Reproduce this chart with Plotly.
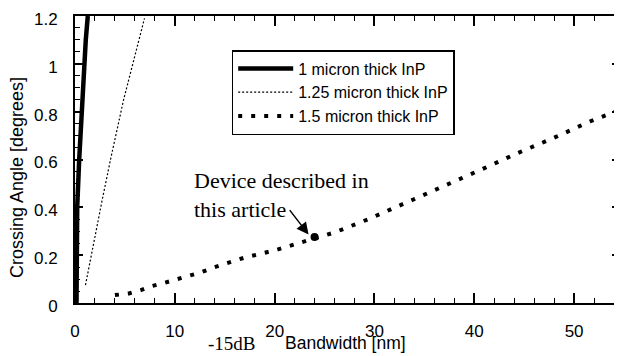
import plotly.graph_objects as go

# Data
x_1um = [0.15, 0.18, 0.22, 0.42, 0.65, 0.88, 1.08, 1.28]
y_1um = [0.0, 0.2, 0.4, 0.6, 0.8, 1.0, 1.1, 1.2]

x_125um = [1.05, 1.3, 1.62, 2.22, 2.72, 3.56, 4.87, 5.73, 6.96]
y_125um = [0.075, 0.13, 0.2, 0.32, 0.43, 0.6, 0.85, 0.99, 1.19]

x_15um = [4.0, 5.4, 6.6, 7.7, 9.0, 10.2, 11.4, 12.6, 14.0, 17.0, 20.0, 22.0, 24.0, 26.0,
          29.6, 33.3, 37.0, 40.6, 44.3, 48.0, 51.7, 54.4]
y_15um = [0.033, 0.04, 0.054, 0.071, 0.085, 0.099, 0.114, 0.128, 0.15, 0.19, 0.22, 0.245,
          0.27, 0.295, 0.354, 0.421, 0.489, 0.556, 0.626, 0.691, 0.761, 0.805]

device_x = [24.0]
device_y = [0.276]

names = ["1 micron thick InP", "1.25 micron thick InP", "1.5 micron thick InP"]
x_ticks = [0, 10, 20, 30, 40, 50]
y_ticks = [0, 0.2, 0.4, 0.6, 0.8, 1.0, 1.2]
y_tick_text = ["0", "0.2", "0.4", "0.6", "0.8", "1", "1.2"]

SANS = "Liberation Sans, Arial, sans-serif"
SERIF = "Liberation Serif, Times New Roman, serif"

fig = go.Figure()
fig.add_trace(go.Scatter(x=x_1um, y=y_1um, mode="lines", name=names[0],
                         line=dict(color="black", width=4.5)))
fig.add_trace(go.Scatter(x=x_125um, y=y_125um, mode="lines", name=names[1],
                         line=dict(color="black", width=1.2, dash="2px,2px")))
fig.add_trace(go.Scatter(x=x_15um, y=y_15um, mode="lines", name=names[2],
                         line=dict(color="black", width=4, dash="4px,9px")))
fig.add_trace(go.Scatter(x=device_x, y=device_y, mode="markers", showlegend=False,
                         marker=dict(color="black", size=8, symbol="circle")))

fig.add_annotation(x=device_x[0] - 0.6, y=device_y[0] + 0.01, xref="x", yref="y",
                   text="", showarrow=True, ax=-20, ay=-26, arrowhead=2,
                   arrowsize=1.6, arrowwidth=1.5, arrowcolor="black")
fig.add_annotation(x=11.7, y=0.572, xref="x", yref="y", xanchor="left", yanchor="top",
                   text="Device described in<br>this article", showarrow=False, align="left",
                   font=dict(family=SERIF, size=22, color="black"))
fig.add_annotation(x=-0.106, y=0.436, xref="paper", yref="paper", textangle=-90,
                   xanchor="center", yanchor="middle",
                   text="Crossing Angle [degrees]", showarrow=False,
                   font=dict(family=SANS, size=18, color="black"))
fig.add_annotation(x=0.497, y=-0.138, xref="paper", yref="paper",
                   xanchor="center", yanchor="middle",
                   text="Bandwidth [nm]", showarrow=False,
                   font=dict(family=SANS, size=17.5, color="black"))
fig.add_annotation(x=0.288, y=-0.14, xref="paper", yref="paper",
                   xanchor="center", yanchor="middle",
                   text="-15dB", showarrow=False,
                   font=dict(family=SERIF, size=19, color="black"))

fig.update_xaxes(range=[0, 54.6], tickvals=x_ticks, ticks="inside", ticklen=10, tickwidth=1.5,
                 tickcolor="black", showline=True, linecolor="black", linewidth=2, mirror="ticks",
                 showgrid=False, zeroline=False, ticklabelstandoff=12,
                 tickfont=dict(family=SANS, size=17, color="black"),
                 minor=dict(dtick=2, ticks="inside", ticklen=5, tickcolor="black", tickwidth=1))
fig.update_yaxes(range=[0, 1.2], tickvals=y_ticks, ticktext=y_tick_text, ticks="inside", ticklen=8,
                 tickwidth=1.5, tickcolor="black", showline=True, linecolor="black", linewidth=2,
                 mirror="ticks", showgrid=False, zeroline=False, ticklabelstandoff=12,
                 ticklabeloverflow="allow", ticklabelshift=3,
                 tickfont=dict(family=SANS, size=17, color="black"),
                 minor=dict(dtick=0.05, ticks="inside", ticklen=5, tickcolor="black", tickwidth=1))

# Page body has an 8px default margin; size the figure so the plot lands where the reference has it
fig.update_layout(
    width=614, height=348, margin=dict(l=67, r=2, t=8, b=53, autoexpand=False),
    plot_bgcolor="white", paper_bgcolor="white",
    legend=dict(x=0.2875, y=0.8815, xanchor="left", yanchor="top", bgcolor="white",
                bordercolor="black", borderwidth=1.5, itemwidth=55, tracegroupgap=0,
                font=dict(family=SANS, size=16, color="black")),
)

fig.write_html("out.html")
